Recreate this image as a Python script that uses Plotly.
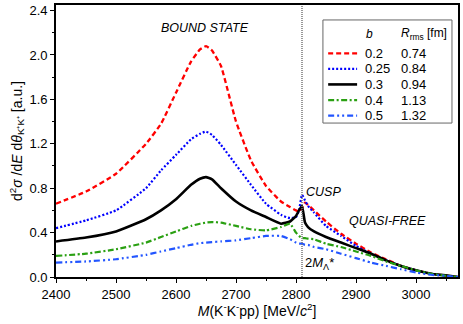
import plotly.graph_objects as go

# invariant mass grid [MeV/c^2]
mass = [2400, 2450, 2500, 2550, 2575, 2600, 2625, 2640, 2650, 2660, 2675, 2700,
        2725, 2750, 2775, 2790, 2800, 2805, 2810, 2815, 2820, 2830, 2850, 2875,
        2900, 2925, 2950, 2975, 3000, 3025, 3050, 3070]

# d2sigma/dE dtheta [a.u.] for each b
b020 = [0.66, 0.77, 0.93, 1.20, 1.38, 1.66, 1.94, 2.05, 2.08, 2.04, 1.90, 1.40,
        1.05, 0.82, 0.68, 0.63, 0.60, 0.59, 0.62, 0.67, 0.65, 0.60, 0.50, 0.39,
        0.30, 0.22, 0.16, 0.10, 0.06, 0.03, 0.01, 0.0]
b025 = [0.44, 0.51, 0.60, 0.80, 0.96, 1.10, 1.24, 1.29, 1.31, 1.28, 1.19, 1.01,
        0.83, 0.66, 0.56, 0.53, 0.54, 0.60, 0.74, 0.69, 0.64, 0.58, 0.46, 0.37,
        0.28, 0.21, 0.15, 0.10, 0.06, 0.03, 0.01, 0.0]
b030 = [0.32, 0.355, 0.41, 0.52, 0.60, 0.70, 0.83, 0.885, 0.90, 0.88, 0.80, 0.68,
        0.60, 0.54, 0.48, 0.50, 0.55, 0.60, 0.64, 0.49, 0.45, 0.41, 0.36, 0.31,
        0.26, 0.21, 0.15, 0.10, 0.06, 0.03, 0.015, 0.0]
b040 = [0.19, 0.21, 0.25, 0.31, 0.36, 0.41, 0.46, 0.48, 0.49, 0.495, 0.49, 0.46,
        0.43, 0.42, 0.45, 0.48, 0.40, 0.37, 0.35, 0.35, 0.345, 0.34, 0.30, 0.27,
        0.23, 0.19, 0.14, 0.10, 0.06, 0.03, 0.01, 0.0]
b050 = [0.13, 0.14, 0.16, 0.20, 0.23, 0.26, 0.29, 0.305, 0.31, 0.315, 0.32, 0.33,
        0.35, 0.37, 0.37, 0.34, 0.31, 0.30, 0.30, 0.29, 0.29, 0.27, 0.25, 0.21,
        0.17, 0.13, 0.10, 0.07, 0.04, 0.02, 0.01, 0.0]

b_labels = ["0.2", "0.25", "0.3", "0.4", "0.5"]
r_rms = ["0.74", "0.84", "0.94", "1.13", "1.32"]
threshold = 2810  # 2M_Lambda*

series = [b020, b025, b030, b040, b050]
colors = ["#ff0000", "#0000ff", "#000000", "#2aa012", "#2255ff"]
dashes = ["5px,3px", "2px,2px", "solid", "6px,2.5px,2px,2.5px", "6px,3px,2px,3px,2px,3px"]
widths = [2.3, 2.2, 2.6, 2.2, 2.2]

FONT = "Liberation Sans, Arial, sans-serif"

fig = go.Figure()
for ys, c, d, w, lab in zip(series, colors, dashes, widths, b_labels):
    fig.add_trace(go.Scatter(x=mass, y=ys, mode="lines", name=lab,
                             line=dict(color=c, dash=d, width=w, shape="spline", smoothing=0.4),
                             showlegend=False))

# threshold line
fig.add_shape(type="line", x0=threshold, x1=threshold, y0=0, y1=1, yref="paper",
              line=dict(color="#777777", width=1.5, dash="1px,1px"))

# hand-made legend table
fig.add_shape(type="rect", xref="paper", yref="paper", x0=0.664, x1=0.985, y0=0.566, y1=0.945,
              line=dict(color="#666666", width=1), fillcolor="white")
fig.add_annotation(xref="paper", yref="paper", x=0.766, y=0.893, text="<i>b</i>", showarrow=False,
                   xanchor="left", yanchor="middle", font=dict(size=12, color="black"))
fig.add_annotation(xref="paper", yref="paper", x=0.853, y=0.893, text="<i>R</i><sub>rms</sub> [fm]",
                   showarrow=False, xanchor="left", yanchor="middle", font=dict(size=12, color="black"))
row_y = [0.822, 0.765, 0.708, 0.650, 0.593]
for yy, c, d, w, lab, r in zip(row_y, colors, dashes, widths, b_labels, r_rms):
    fig.add_shape(type="line", xref="paper", yref="paper", x0=0.677, x1=0.749, y0=yy, y1=yy,
                  line=dict(color=c, dash=d, width=w))
    fig.add_annotation(xref="paper", yref="paper", x=0.764, y=yy, text=lab, showarrow=False,
                       xanchor="left", yanchor="middle", font=dict(size=13, color="black"))
    fig.add_annotation(xref="paper", yref="paper", x=0.853, y=yy, text=r, showarrow=False,
                       xanchor="left", yanchor="middle", font=dict(size=13, color="black"))

# labels in the plot
fig.add_annotation(x=2648, y=2.24, text="<i>BOUND STATE</i>", showarrow=False,
                   font=dict(size=12.5, color="black"))
fig.add_annotation(x=2845, y=0.77, text="<i>CUSP</i>", showarrow=False,
                   font=dict(size=12.5, color="black"))
fig.add_annotation(x=2952, y=0.50, text="<i>QUASI-FREE</i>", showarrow=False,
                   font=dict(size=12.5, color="black"))
fig.add_annotation(x=2812, y=0.12, text="2<i>M</i><sub>Λ</sub>*", showarrow=False, xanchor="left",
                   font=dict(size=13, color="black"))

axis_common = dict(showline=True, linecolor="black", linewidth=1.8, mirror=True,
                   ticks="outside", ticklen=4, tickwidth=1.2, tickcolor="black",
                   showgrid=False, zeroline=False, automargin=False,
                   tickfont=dict(size=13, color="black", family=FONT))

fig.update_xaxes(range=[2400, 3070], dtick=100, tick0=2400,
                 minor=dict(ticks="outside", ticklen=2.5, dtick=50, tickcolor="black"),
                 title=dict(text="<i>M</i>(K<sup>-</sup>K<sup>-</sup>pp) [MeV/<i>c</i><sup>2</sup>]",
                            font=dict(size=14, color="black", family=FONT), standoff=6),
                 **axis_common)
fig.update_yaxes(range=[0, 2.45], dtick=0.4, tick0=0, tickformat=".1f",
                 minor=dict(ticks="outside", ticklen=2.5, dtick=0.2, tickcolor="black"),
                 title=dict(text="d<sup>2</sup><i>σ</i> /d<i>E</i> d<i>θ</i><sub>K⁺K⁺</sub> [a.u.]",
                            font=dict(size=14, color="black", family=FONT), standoff=4),
                 **axis_common)

fig.update_layout(width=463, height=324, margin=dict(l=56, r=5, t=5, b=47),
                  paper_bgcolor="white", plot_bgcolor="white",
                  font=dict(family=FONT, color="black"))

# the page's default body margin would push the figure 8px down/right
fig.write_html("out.html", config={"displayModeBar": False},
               post_script="document.body.style.margin='0px';")
